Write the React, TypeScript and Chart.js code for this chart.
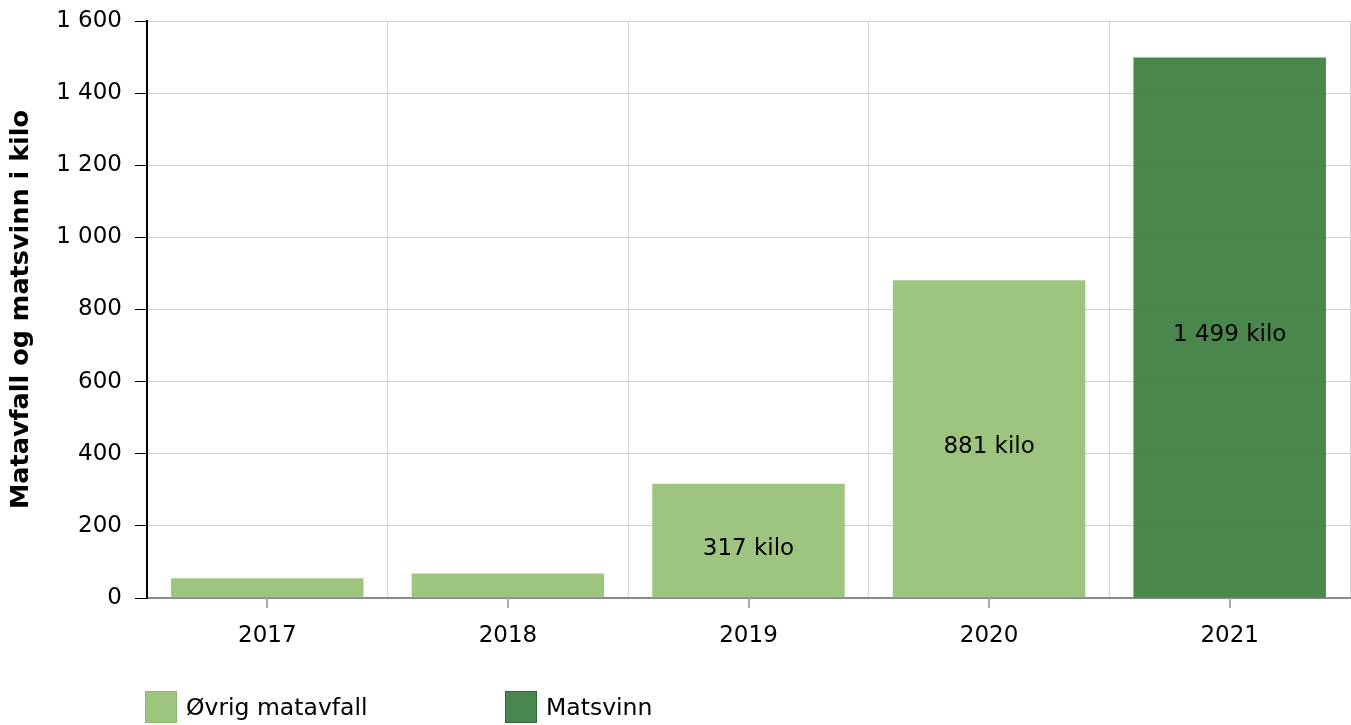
import React, { useEffect, useRef } from "react";
import { Chart, registerables } from "chart.js";

Chart.register(...registerables);

const categories = ["2017", "2018", "2019", "2020", "2021"];
const ovrigMatavfall = [55, 68, 317, 881, null];
const matsvinn = [null, null, null, null, 1499];
const seriesNames = ["Øvrig matavfall", "Matsvinn"];
const yMin = 0;
const yMax = 1600;
const yStep = 200;
const yTitle = "Matavfall og matsvinn i kilo";
const unit = "kilo";

const lightFill = "rgba(146,191,113,0.9)";
const darkFill = "rgba(54,122,58,0.9)";
const FONT = "'DejaVu Sans', Verdana, sans-serif";

const fmt = (n: number) => String(n).replace(/\B(?=(\d{3})+(?!\d))/g, " ");

const barLabelPlugin = {
  id: "barLabels",
  afterDatasetsDraw(chart: any) {
    const ctx = chart.ctx;
    ctx.save();
    ctx.font = `23px ${FONT}`;
    ctx.fillStyle = "#000";
    ctx.textAlign = "center";
    ctx.textBaseline = "middle";
    chart.data.datasets.forEach((ds: any, di: number) => {
      const meta = chart.getDatasetMeta(di);
      meta.data.forEach((el: any, i: number) => {
        const v = ds.data[i];
        if (v == null) return;
        const h = el.base - el.y;
        if (h < 40) return;
        ctx.fillText(`${fmt(v)} ${unit}`, el.x, (el.y + el.base) / 2 + 8);
      });
    });
    ctx.restore();
  },
};

const centerTickPlugin = {
  id: "centerTicks",
  afterDraw(chart: any) {
    const ctx = chart.ctx;
    const xs = chart.scales.x;
    const bottom = chart.chartArea.bottom;
    ctx.save();
    ctx.strokeStyle = "#aaaaaa";
    ctx.lineWidth = 2;
    categories.forEach((_, i) => {
      const x = Math.round(xs.getPixelForValue(i));
      ctx.beginPath();
      ctx.moveTo(x, bottom);
      ctx.lineTo(x, bottom + 10);
      ctx.stroke();
    });
    ctx.restore();
  },
};

export default function App() {
  const ref = useRef<HTMLCanvasElement>(null);

  useEffect(() => {
    document.body.style.margin = "0";
    const canvas = ref.current!;
    const chart = new Chart(canvas, {
      type: "bar",
      data: {
        labels: categories,
        datasets: [
          {
            label: seriesNames[0],
            data: ovrigMatavfall as any,
            backgroundColor: lightFill,
            borderWidth: 0,
          },
          {
            label: seriesNames[1],
            data: matsvinn as any,
            backgroundColor: darkFill,
            borderWidth: 0,
          },
        ],
      },
      options: {
        animation: false,
        responsive: false,
        devicePixelRatio: 1,
        layout: { padding: { top: 21, right: 1, left: 0, bottom: 0 } },
        datasets: { bar: { barPercentage: 0.8, categoryPercentage: 1.0 } },
        plugins: {
          legend: { display: false },
          tooltip: { enabled: false },
        },
        scales: {
          x: {
            stacked: true,
            offset: true,
            grid: {
              offset: true,
              color: "#d2d2d2",
              lineWidth: 1,
              drawTicks: false,
            },
            border: { display: true, color: "#8a8a8a", width: 2 },
            ticks: {
              color: "#000",
              padding: 24,
              font: { family: FONT, size: 23 },
            },
            afterFit(scale: any) {
              scale.height = 127;
              scale.paddingLeft = 0;
              scale.paddingRight = 0;
            },
          },
          y: {
            stacked: true,
            min: yMin,
            max: yMax,
            grid: {
              color: "#d2d2d2",
              lineWidth: 1,
              drawTicks: true,
              tickLength: 12,
              tickColor: "#000",
            },
            border: { display: true, color: "#000", width: 2 },
            ticks: {
              stepSize: yStep,
              color: "#000",
              padding: 13,
              font: { family: FONT, size: 23 },
              callback: (v: any) => fmt(Number(v)),
            },
            title: {
              display: true,
              text: yTitle,
              color: "#000",
              font: { family: FONT, size: 25.5, weight: "bold" },
              padding: { top: 6, bottom: 0 },
            },
            afterFit(scale: any) {
              scale.width = 147;
              scale.paddingTop = 0;
              scale.paddingBottom = 0;
            },
          },
        },
      },
      plugins: [barLabelPlugin, centerTickPlugin],
    });
    return () => chart.destroy();
  }, []);

  const legendItems = [
    { name: seriesNames[0], fill: "#9dc57f", border: "#8cbd6c", left: 145 },
    { name: seriesNames[1], fill: "#4a874e", border: "#2d6a31", left: 505 },
  ];

  return (
    <div style={{ position: "relative", width: 1351, height: 725, fontFamily: FONT }}>
      <canvas ref={ref} width={1351} height={725} style={{ display: "block" }} />
      {legendItems.map((it) => (
        <div
          key={it.name}
          style={{
            position: "absolute",
            left: it.left,
            top: 691,
            height: 32,
            display: "flex",
            alignItems: "center",
            whiteSpace: "nowrap",
          }}
        >
          <div
            style={{
              width: 30,
              height: 30,
              background: it.fill,
              border: `1px solid ${it.border}`,
              marginRight: 9,
            }}
          />
          <span style={{ fontSize: 23.5, color: "#000", lineHeight: "32px" }}>{it.name}</span>
        </div>
      ))}
    </div>
  );
}
